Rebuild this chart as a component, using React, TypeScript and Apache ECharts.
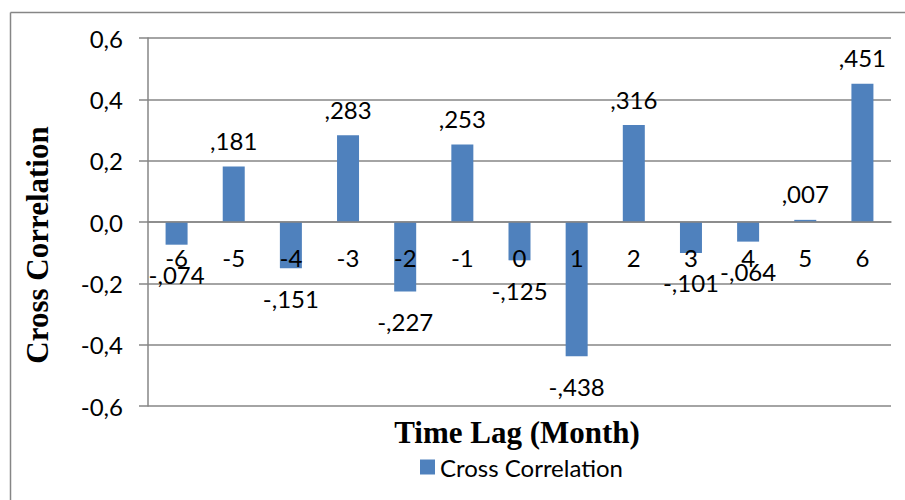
import React, { useEffect, useRef } from "react";
import * as echarts from "echarts";

const categories = ["-6", "-5", "-4", "-3", "-2", "-1", "0", "1", "2", "3", "4", "5", "6"];
const crossCorrelation = [-0.074, 0.181, -0.151, 0.283, -0.227, 0.253, -0.125, -0.438, 0.316, -0.101, -0.064, 0.007, 0.451];
const seriesName = "Cross Correlation";
const xTitle = "Time Lag (Month)";
const yTitle = "Cross Correlation";

const fmtAxis = (v: number) => v.toFixed(1).replace(".", ",");
const fmtLabel = (v: number) => {
  const s = Math.abs(v).toFixed(3).replace(/^0/, "").replace(".", ",");
  return (v < 0 ? "-" : "") + s;
};

const FONT = "Lato, 'Open Sans', sans-serif";
const SERIF = "'Liberation Serif', 'DejaVu Serif', serif";
const GRID = "#868686";
const FS = 24;

export default function App() {
  const ref = useRef<HTMLDivElement>(null);
  useEffect(() => {
    if (!ref.current) return;
    const chart = echarts.init(ref.current, undefined, { renderer: "svg" });
    chart.setOption({
      animation: false,
      backgroundColor: "#fff",
      grid: { left: 148, right: 14, top: 38, bottom: 94, containLabel: false },
      legend: {
        data: [seriesName],
        left: 415,
        top: 450,
        itemWidth: 15,
        itemHeight: 15,
        icon: "rect",
        itemGap: 6,
        textStyle: { fontFamily: FONT, fontSize: FS, color: "#000" },
      },
      graphic: [
        { type: "line", shape: { x1: 10.5, y1: 12.5, x2: 905, y2: 12.5 }, style: { stroke: GRID, lineWidth: 1.5 } },
        { type: "line", shape: { x1: 10.5, y1: 12.5, x2: 10.5, y2: 500 }, style: { stroke: GRID, lineWidth: 1.5 } },
        {
          type: "text",
          x: 517,
          y: 432,
          style: { text: xTitle, font: `bold 31px ${SERIF}`, fill: "#000", textAlign: "center", textVerticalAlign: "middle" },
        },
        {
          type: "text",
          x: 37,
          y: 245,
          rotation: Math.PI / 2,
          style: { text: yTitle, font: `bold 31px ${SERIF}`, fill: "#000", textAlign: "center", textVerticalAlign: "middle" },
        },
      ],
      xAxis: {
        type: "category",
        data: categories,
        offset: -184,
        axisLine: { onZero: false, lineStyle: { color: GRID, width: 1.5 } },
        axisTick: { show: false },
        axisLabel: { fontFamily: FONT, fontSize: FS, color: "#000", margin: 23 },
        splitLine: { show: false },
        z: 5,
      },
      yAxis: {
        type: "value",
        min: -0.6,
        max: 0.6,
        interval: 0.2,
        axisLine: { show: true, lineStyle: { color: GRID, width: 1.5 } },
        axisTick: { show: true, length: 9, lineStyle: { color: GRID, width: 1.5 } },
        axisLabel: { fontFamily: FONT, fontSize: FS, color: "#000", margin: 25, formatter: (v: number) => fmtAxis(v) },
        splitLine: { show: true, lineStyle: { color: GRID, width: 1.5 } },
      },
      series: [
        {
          name: seriesName,
          type: "bar",
          barWidth: 22,
          itemStyle: { color: "#4F81BD" },
          data: crossCorrelation.map((v) => ({
            value: v,
            label: {
              show: true,
              position: v < 0 ? "bottom" : "top",
              distance: v < 0 ? 18 : 14,
              fontFamily: FONT,
              fontSize: FS,
              color: "#000",
              formatter: () => fmtLabel(v),
            },
          })),
        },
      ],
    });
    return () => chart.dispose();
  }, []);
  return <div ref={ref} style={{ width: 905, height: 500, position: "absolute", left: 0, top: 0 }} />;
}
